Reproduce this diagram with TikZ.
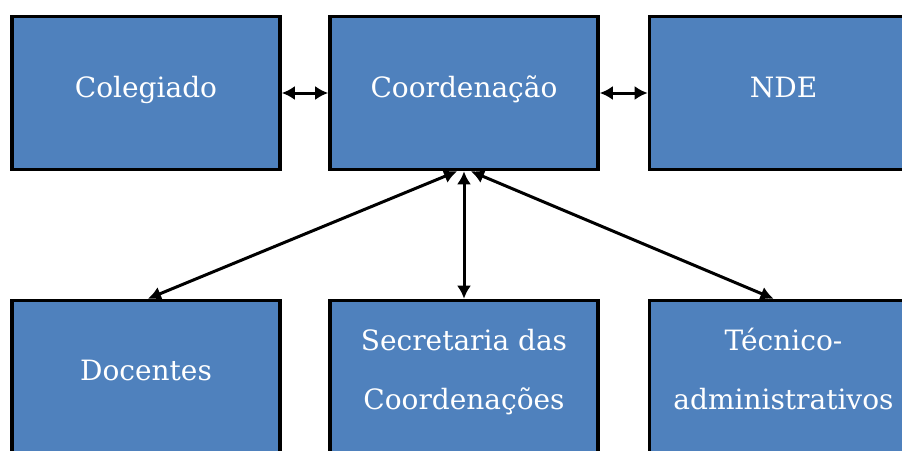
\documentclass[tikz,border=0pt]{standalone}
\usepackage{fontspec}
\setmainfont{DejaVu Serif}
\usetikzlibrary{arrows.meta}
\definecolor{boxblue}{HTML}{4F81BD}
\begin{document}
\begin{tikzpicture}[x=1pt,y=1pt,
  box/.style={draw=black,line width=3.6pt,fill=boxblue,minimum width=268pt,minimum height=153pt,inner sep=0pt,outer sep=1.8pt},
  txt/.style={text=white,font=\fontsize{28}{59}\selectfont,align=center,anchor=base,inner sep=0pt},
  link/.style={line width=3pt,{Latex[length=13pt,width=14pt]}-{Latex[length=13pt,width=14pt]}}]
\useasboundingbox (0,0) rectangle (902,-450);
\clip (0,0) rectangle (902,-450);
\node[box] (col) at (146,-93) {};
\node[box] (coo) at (464,-93) {};
\node[box] (nde) at (783.5,-93) {};
\node[box] (doc) at (146,-377) {};
\node[box] (sec) at (464,-377) {};
\node[box] (tec) at (783.5,-377) {};
\node[txt] (tcol) at (146,-97) {Colegiado};
\node[txt] (tcoo) at (464,-97) {Coordenação};
\node[txt] (tnde) at (783.5,-97) {NDE};
\node[txt] (tdoc) at (146,-380) {Docentes};
\node[txt] (tsec) at (464,-409) {Secretaria das\\Coordenações};
\node[txt] (ttec) at (783.5,-409) {Técnico-\\administrativos};
\draw[link] (col) -- (coo);
\draw[link] (coo) -- (nde);
\draw[link] (coo.south) -- (sec.north);
\draw[link] ([xshift=-7pt]coo.south) -- ([xshift=2pt]doc.north);
\draw[link] ([xshift=7pt]coo.south) -- ([xshift=-10pt]tec.north);
\end{tikzpicture}
\end{document}
